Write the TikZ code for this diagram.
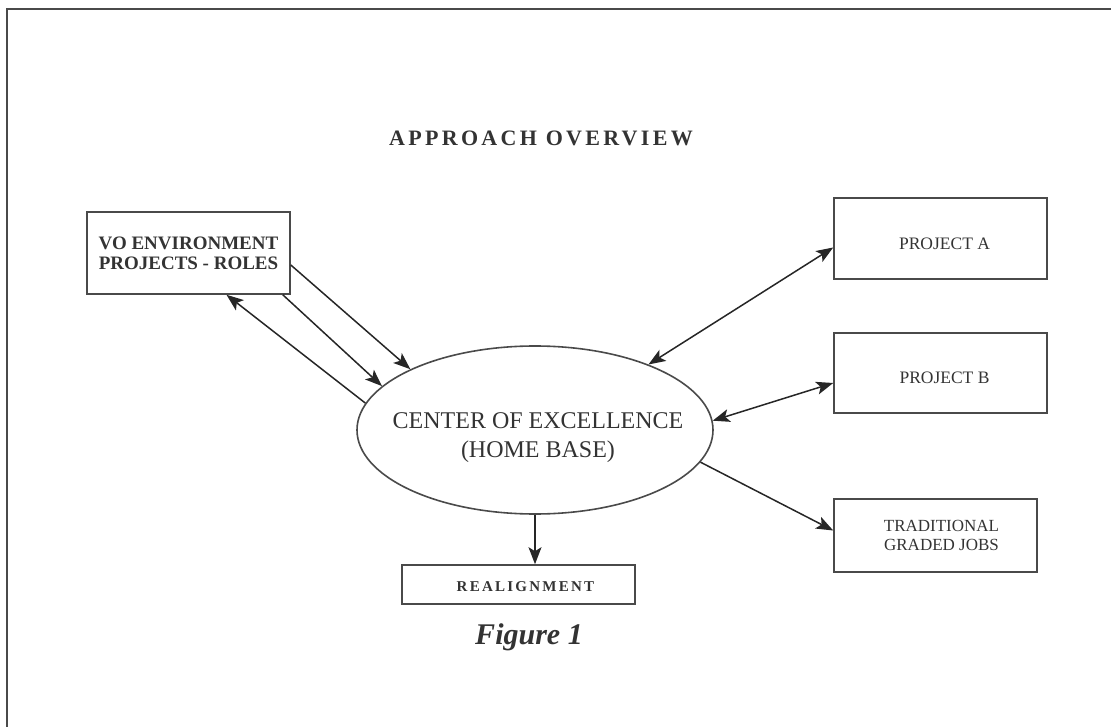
\documentclass[tikz,border=0pt]{standalone}
\usepackage{fontspec}
\setmainfont{Liberation Serif}
\newfontfamily\spacedfont[LetterSpace=15]{Liberation Serif}
\usetikzlibrary{arrows.meta,shapes.geometric}

\definecolor{ink}{HTML}{333333}
\definecolor{rule}{HTML}{4A4A4A}

\begin{document}
\begin{tikzpicture}[x=1pt,y=-1pt,
	box/.style={rectangle,draw=rule,line width=1.6pt,inner sep=0pt,text=ink,align=center},
	oval/.style={ellipse,draw=rule,line width=1.6pt,inner xsep=-40pt,inner ysep=0pt,text=ink,align=center},
	link/.style={draw=black!85,line width=1.5pt,-{Stealth[length=17pt,width=13pt,inset=4pt]}},
	twoway/.style={link,{Stealth[length=17pt,width=13pt,inset=4pt]}-{Stealth[length=17pt,width=13pt,inset=4pt]}}]
	
	\useasboundingbox (0,0) rectangle (1111,727);
	\draw[rule,line width=2.4pt] (7,727) -- (7,9) -- (1111,9);
	
	\node[text=ink,font=\spacedfont\bfseries\fontsize{22}{24}\selectfont] (title) at (541,138) {APPROACH OVERVIEW};
	
	\node[oval,minimum width=356pt,minimum height=168pt] (coe) at (535,430) {};
	\node[text=ink,align=center,font=\fontsize{24}{29}\selectfont] (coetext) at (538,438)
		{CENTER OF EXCELLENCE\\(HOME BASE)};
	
	\node[box,minimum width=203pt,minimum height=82pt,font=\bfseries\fontsize{19}{20}\selectfont] (vo) at (188.5,253)
		{VO ENVIRONMENT\\PROJECTS - ROLES};
	\node[box,minimum width=213pt,minimum height=81pt,text height=22pt,text depth=0pt,font=\fontsize{17.5}{20}\selectfont] (pa) at (940.5,238.5) {\hspace{8pt}PROJECT A};
	\node[box,minimum width=213pt,minimum height=80pt,text height=20pt,text depth=0pt,font=\fontsize{17.5}{20}\selectfont] (pb) at (940.5,373) {\hspace{8pt}PROJECT B};
	\node[box,minimum width=203pt,minimum height=73pt,font=\fontsize{17}{19}\selectfont] (tj) at (935.5,535.5) {\hspace{12pt}TRADITIONAL\\\hspace{12pt}GRADED JOBS};
	\node[box,minimum width=233pt,minimum height=39pt,text height=14pt,text depth=0pt,font=\spacedfont\bfseries\fontsize{15}{18}\selectfont] (real) at (518.5,584.5) {\hspace{14pt}REALIGNMENT};
	
	\node[text=ink,font=\bfseries\itshape\fontsize{30}{34}\selectfont] (fig) at (529,637) {Figure 1};
	
	% connectors
	\draw[link] ([yshift=-12pt]vo.east) -- (coe.154);
	\draw[link] ([xshift=-8pt]vo.south east) -- (coe.164);
	\draw[link] (coe.171) -- ([xshift=38pt]vo.south);
	\draw[twoway] ([yshift=-9pt]pa.west) -- (coe.30);
	\draw[twoway] ([yshift=-10pt]pb.west) -- (coe.3);
	\draw[link] (coe.-11) -- ([yshift=5pt]tj.west);
	\draw[link] (coe.south) -- (coe.south |- real.north);
	
\end{tikzpicture}
\end{document}
